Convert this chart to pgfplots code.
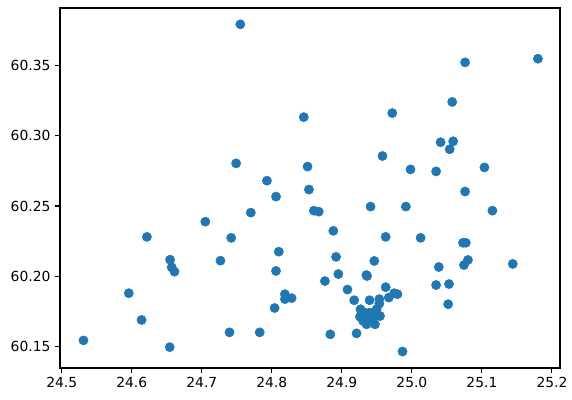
\documentclass[border=0pt]{standalone}
\usepackage{fontspec}
\setmainfont{DejaVu Sans}
\usepackage{pgfplots}
\pgfplotsset{compat=1.18}
\definecolor{mplblue}{HTML}{1F77B4}
\begin{document}
\begin{tikzpicture}
\path[use as bounding box] (-45pt,-24pt) rectangle (384pt,276pt);
\begin{axis}[
  at={(0pt,0pt)}, anchor=south west,
  scale only axis, width=375pt, height=270pt,
  xmin=24.4975, xmax=25.2115,
  ymin=60.1350, ymax=60.3906,
  xtick={24.5,24.6,...,25.21},
  ytick={60.15,60.20,60.25,60.30,60.35},
  tick align=outside, major tick length=3.65pt,
  tick style={black, line width=0.83pt},
  axis line style={line width=0.83pt},
  xtick pos=bottom, ytick pos=left,
  /pgf/number format/assume math mode=true,
  xticklabel style={/pgf/number format/.cd, fixed, fixed zerofill, precision=1},
  yticklabel style={/pgf/number format/.cd, fixed, fixed zerofill, precision=2},
  tick label style={font=\fontsize{10.4}{12}\selectfont},
  scaled ticks=false,
  clip=false,
]
\addplot[only marks, mark=*, mark size=3.45pt, color=mplblue, mark options={draw=mplblue, fill=mplblue}] coordinates {
(24.755,60.379)
(24.8456,60.3131)
(24.749,60.2803)
(24.851,60.278)
(24.793,60.268)
(24.853,60.2617)
(25.076,60.352)
(25.180,60.3546)
(25.0576,60.3239)
(24.972,60.316)
(25.041,60.2953)
(25.059,60.296)
(25.054,60.2903)
(24.958,60.2855)
(24.998,60.276)
(25.0346,60.2746)
(25.1036,60.2774)
(25.076,60.2603)
(24.806,60.2567)
(24.770,60.2453)
(24.860,60.2467)
(24.867,60.246)
(24.705,60.2389)
(24.6216,60.2281)
(24.742,60.2274)
(24.810,60.2176)
(24.6547,60.2119)
(24.7266,60.2112)
(24.657,60.2065)
(24.661,60.2034)
(24.806,60.2039)
(24.5957,60.1881)
(24.8187,60.1874)
(24.8187,60.1839)
(24.8283,60.1846)
(24.804,60.1776)
(24.614,60.1691)
(24.7396,60.1603)
(24.7827,60.1603)
(24.531,60.1546)
(24.6542,60.1498)
(24.941,60.2496)
(24.9914,60.2496)
(25.115,60.2467)
(24.8878,60.2324)
(24.9626,60.2281)
(25.0125,60.2274)
(25.073,60.2239)
(25.077,60.2239)
(24.8917,60.2139)
(24.9463,60.211)
(25.080,60.2117)
(25.0744,60.2081)
(25.144,60.2089)
(25.0384,60.2067)
(24.895,60.2017)
(24.935,60.201)
(24.936,60.2003)
(24.8758,60.1967)
(25.0346,60.1939)
(25.053,60.1946)
(24.908,60.1907)
(24.9626,60.1924)
(24.9747,60.1881)
(24.9794,60.1874)
(24.967,60.185)
(24.9176,60.1831)
(24.9396,60.1831)
(24.9535,60.1839)
(24.9535,60.1807)
(25.0518,60.1803)
(24.9266,60.1767)
(24.9496,60.1767)
(24.9258,60.1714)
(24.933,60.1743)
(24.940,60.1743)
(24.9473,60.1731)
(24.9545,60.1719)
(24.9353,60.166)
(24.9473,60.166)
(24.940,60.1696)
(24.945,60.1707)
(24.9305,60.1683)
(24.8835,60.1589)
(24.921,60.1596)
(24.9866,60.1467)
};
\end{axis}
\end{tikzpicture}
\end{document}
